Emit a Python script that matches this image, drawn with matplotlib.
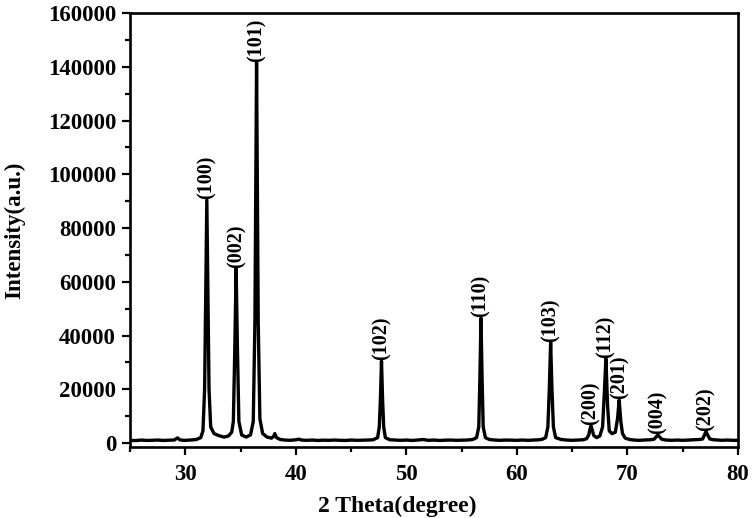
import matplotlib
matplotlib.use("Agg")
import matplotlib.pyplot as plt
from matplotlib.ticker import MultipleLocator

# ---- data (2theta in degrees, intensity in a.u.) ----
two_theta = [
    25.0, 25.5, 26.0, 26.5, 27.0, 27.5, 28.0, 28.5, 29.0, 29.3, 29.5, 29.8,
    30.0, 30.5, 31.0, 31.4, 31.6, 31.75, 31.85, 31.95, 32.05, 32.15, 32.3,
    32.6, 33.0, 33.5, 33.9, 34.2, 34.35, 34.48, 34.6, 34.72, 34.85, 35.1,
    35.5, 35.9, 36.15, 36.3, 36.45, 36.6, 36.75, 37.0, 37.4, 37.8, 38.0,
    38.1, 38.25, 38.6, 39.0, 39.5, 40.0, 40.3, 40.5, 41.0, 41.5, 42.0, 42.5,
    43.0, 43.5, 44.0, 44.5, 45.0, 45.5, 46.0, 46.5, 47.0, 47.4, 47.55, 47.65,
    47.75, 47.85, 47.95, 48.1, 48.5, 49.0, 49.5, 50.0, 50.5, 51.0, 51.5,
    52.0, 52.5, 53.0, 53.5, 54.0, 54.5, 55.0, 55.5, 56.0, 56.35, 56.55,
    56.65, 56.75, 56.85, 56.95, 57.15, 57.5, 58.0, 58.5, 59.0, 59.5, 60.0,
    60.5, 61.0, 61.5, 62.0, 62.3, 62.6, 62.8, 62.93, 63.05, 63.17, 63.3,
    63.5, 64.0, 64.5, 65.0, 65.5, 66.0, 66.3, 66.5, 66.6, 66.7, 66.8, 66.95,
    67.2, 67.5, 67.75, 67.9, 68.05, 68.2, 68.35, 68.6, 68.9, 69.1, 69.25,
    69.4, 69.55, 69.8, 70.2, 70.6, 71.0, 71.5, 72.0, 72.4, 72.6, 72.75,
    72.9, 73.1, 73.5, 74.0, 74.5, 75.0, 75.5, 76.0, 76.5, 76.8, 77.0, 77.1,
    77.25, 77.45, 77.8, 78.2, 78.6, 79.0, 79.5, 80.0,
]
intensity = [
    1000, 900, 1100, 950, 1000, 1100, 950, 1050, 1100, 1900, 1200, 1000,
    1000, 1100, 1300, 2000, 4500, 20000, 55000, 90500, 55000, 20000, 6000,
    3500, 2800, 2200, 2600, 4000, 8000, 35000, 65000, 35000, 8000, 3000,
    2200, 3000, 8000, 45000, 141500, 45000, 9000, 3500, 2200, 1800, 2500,
    3500, 2000, 1300, 1100, 1000, 1200, 1400, 1100, 1000, 1100, 950, 1050,
    1000, 1100, 1000, 950, 1100, 1000, 1050, 1100, 1200, 2000, 6000, 16000,
    30500, 16000, 6000, 2000, 1200, 1100, 1000, 1100, 950, 1100, 1300,
    1000, 1100, 950, 1050, 1100, 1000, 1050, 1100, 1300, 2000, 6000,
    24000, 46500, 24000, 6000, 2000, 1300, 1100, 1000, 1100, 1050, 1000,
    1100, 1000, 1100, 1200, 1400, 2000, 6000, 20000, 37500, 20000, 6000,
    2000, 1300, 1100, 1000, 1100, 1200, 1600, 3000, 5000, 6500, 5000, 2800,
    2000, 2600, 6000, 18000, 31500, 14000, 4500, 3500, 4000, 9000, 16000,
    8000, 3500, 1800, 1300, 1100, 1000, 1100, 1200, 1400, 2300, 3000,
    2300, 1400, 1100, 1000, 1100, 1000, 1100, 1200, 1300, 1500, 3300, 4300,
    3000, 1500, 1200, 1100, 1000, 1100, 1000, 1000,
]

peak_labels = ["(100)", "(002)", "(101)", "(102)", "(110)", "(103)",
               "(200)", "(112)", "(201)", "(004)", "(202)"]
peak_pos = [31.95, 34.6, 36.45, 47.75, 56.75, 63.05,
            66.7, 68.05, 69.25, 72.75, 77.1]
peak_height = [90500, 65000, 141500, 30500, 46500, 37500,
               6500, 31500, 16000, 3000, 4300]

x_ticks = [30, 40, 50, 60, 70, 80]
y_ticks = [0, 20000, 40000, 60000, 80000, 100000, 120000, 140000, 160000]

# ---- figure ----
plt.rcParams["font.family"] = ["Liberation Serif", "DejaVu Serif"]
plt.rcParams["font.weight"] = "bold"

fig = plt.figure(figsize=(7.54, 5.18), dpi=100)
ax = fig.add_axes([0.1724, 0.137, 0.9788 - 0.1724, 0.9749 - 0.137])

ax.plot(two_theta, intensity, color="black", linewidth=2.4, solid_joinstyle="round")

for lab, px, ph in zip(peak_labels, peak_pos, peak_height):
    ax.annotate(lab, xy=(px, ph), xytext=(0, 0.5), textcoords="offset points",
                rotation=90, ha="center", va="bottom", fontsize=14.5,
                fontweight="bold")

ax.set_xlim(25, 80)
ax.set_ylim(-1500, 160000)
ax.set_xticks(x_ticks)
ax.set_yticks(y_ticks)
ax.xaxis.set_minor_locator(MultipleLocator(5))
ax.yaxis.set_minor_locator(MultipleLocator(10000))

ax.tick_params(which="major", direction="out", length=6, width=1.6,
               labelsize=16.5, top=False, right=False)
ax.tick_params(axis="x", which="major", pad=6.5)
ax.tick_params(axis="y", which="major", pad=4)
ax.tick_params(which="minor", direction="out", length=3.6, width=1.6,
               top=False, right=False)
for lab in ax.get_xticklabels() + ax.get_yticklabels():
    lab.set_fontweight("bold")
for sp in ax.spines.values():
    sp.set_linewidth(1.9)

ax.set_xlabel("2 Theta(degree)", fontsize=17, fontweight="bold")
ax.set_ylabel("Intensity(a.u.)", fontsize=16.5, fontweight="bold")
ax.xaxis.set_label_coords(0.439, -0.112)
ax.yaxis.set_label_coords(-0.172, 0.5)

fig.savefig("out.png", dpi=100)
